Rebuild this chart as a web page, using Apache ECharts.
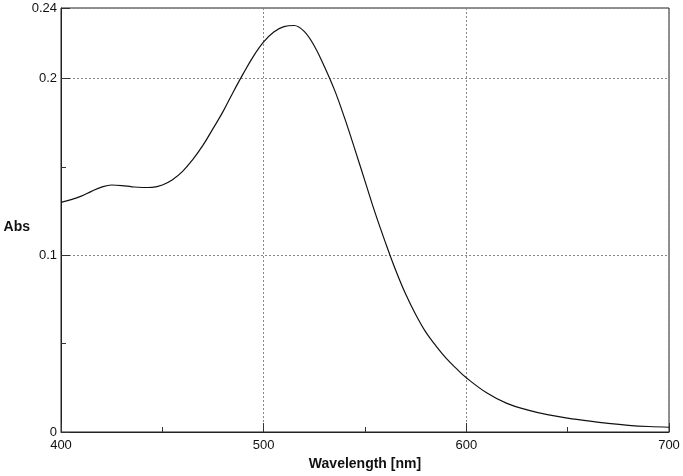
<!DOCTYPE html>
<html>
<head>
<meta charset="utf-8">
<script src="https://cdn.jsdelivr.net/npm/echarts@6/dist/echarts.min.js"></script>
<style>
  html, body { margin: 0; padding: 0; background: #fff; }
  #container { width: 683px; height: 476px; }
</style>
</head>
<body>
<div id="container"></div>
<script>
// spectrum
var wavelength = [400, 405, 410, 415, 420, 425, 430, 435, 440, 445, 450, 455, 460, 465, 470, 475,
	480, 485, 490, 495, 500, 505, 510, 515, 520, 525, 530, 535, 540, 545, 550, 555, 560, 565,
	570, 575, 580, 585, 590, 595, 600, 610, 620, 630, 640, 650, 660, 670, 680, 690, 700];
var absorbance = [0.1300, 0.1315, 0.1335, 0.1362, 0.1386, 0.1398, 0.1395, 0.1388, 0.1384, 0.1385,
	0.1398, 0.1428, 0.1475, 0.1542, 0.1622, 0.1717, 0.1815, 0.1925, 0.2030, 0.2128, 0.2208,
	0.2264, 0.2295, 0.2301, 0.2268, 0.2185, 0.2068, 0.1935, 0.1775, 0.1600, 0.1420, 0.1240,
	0.1075, 0.0920, 0.0782, 0.0665, 0.0565, 0.0488, 0.0418, 0.0360, 0.0307, 0.0222, 0.0162,
	0.0125, 0.0098, 0.0079, 0.0063, 0.0049, 0.0038, 0.0031, 0.0027];
var xTicks = { min: 400, max: 700, step: 100 };
var yTicks = { min: 0, max: 0.24, step: 0.1, minorStep: 0.05 };

var points = [];
for ( var i = 0; i < wavelength.length; i++ ) {
	points.push( [ wavelength[i], absorbance[i] ] );
}

var dom = document.getElementById( 'container' );
var myChart = echarts.init( dom );
var font = 'Liberation Sans, Arial, sans-serif';

var option = {
	animation: false,
	grid: {
		left: 61, right: 14, top: 8, bottom: 44,
		outerBoundsMode: 'none',
		containLabel: false,
		show: true,
		borderColor: '#222',
		borderWidth: 1
	},
	xAxis: {
		type: 'value',
		min: xTicks.min,
		max: xTicks.max,
		interval: xTicks.step,
		name: 'Wavelength [nm]',
		nameLocation: 'middle',
		nameGap: 25,
		nameMoveOverlap: false,
		nameTextStyle: { fontFamily: font, fontWeight: 'bold', fontSize: 14, color: '#111' },
		axisLine: { show: true, lineStyle: { color: '#222', width: 1 } },
		axisTick: { show: true, inside: true, length: 9, lineStyle: { color: '#333' } },
		minorTick: { show: true, splitNumber: 2, length: 5, lineStyle: { color: '#333' } },
		axisLabel: { fontFamily: font, fontSize: 13, color: '#111', margin: 7 },
		splitLine: { show: true, lineStyle: { color: '#888', type: [2, 2], width: 1 } }
	},
	yAxis: [
		{
			type: 'value',
			min: yTicks.min,
			max: yTicks.max,
			interval: yTicks.step,
			name: 'Abs',
			nameLocation: 'middle',
			nameRotate: 0,
			nameGap: 31,
			nameMoveOverlap: false,
			nameTextStyle: {
				fontFamily: font, fontWeight: 'bold', fontSize: 14, color: '#111',
				verticalAlign: 'top'
			},
			axisLine: { show: true, lineStyle: { color: '#222', width: 1 } },
			axisTick: { show: true, inside: true, length: 9, lineStyle: { color: '#333' } },
			axisLabel: {
				fontFamily: font, fontSize: 13, color: '#111', margin: 4,
				formatter: function( v ) { return String( +v.toFixed( 2 ) ); }
			},
			splitLine: { show: true, lineStyle: { color: '#888', type: [2, 2], width: 1 } }
		},
		{
			// only for the short minor ticks on the left edge
			type: 'value',
			position: 'left',
			min: yTicks.min,
			max: yTicks.max,
			interval: yTicks.minorStep,
			axisLine: { show: false },
			axisTick: { show: true, inside: true, length: 5, lineStyle: { color: '#333' } },
			axisLabel: { show: false },
			splitLine: { show: false }
		}
	],
	series: [
		{
			type: 'line',
			data: points,
			yAxisIndex: 0,
			smooth: 0.4,
			showSymbol: false,
			lineStyle: { color: '#111', width: 1.2 }
		}
	]
};

myChart.setOption( option, true );
</script>
</body>
</html>
